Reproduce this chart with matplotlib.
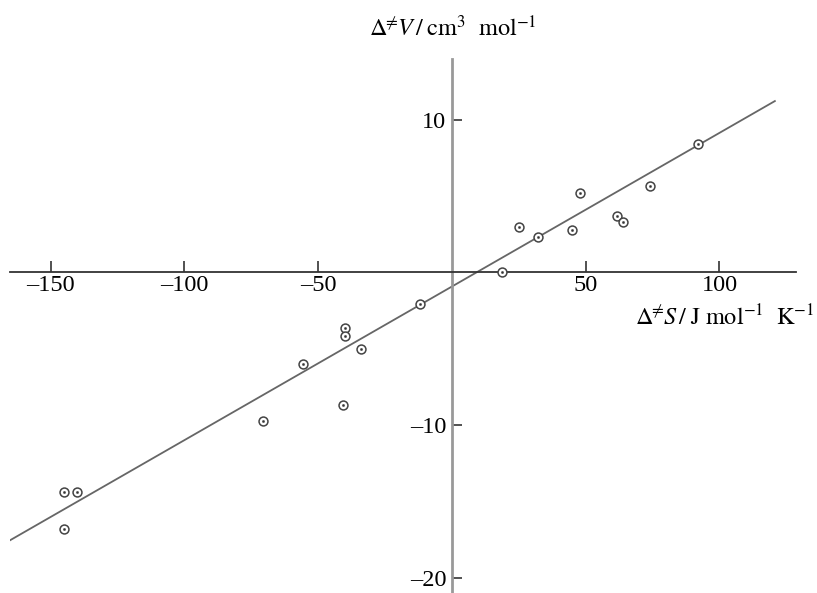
import matplotlib
matplotlib.use("Agg")
import matplotlib.pyplot as plt
import numpy as np

plt.rcParams['font.family'] = ['Liberation Serif', 'DejaVu Serif']
plt.rcParams['mathtext.fontset'] = 'stix'

# Data
dS = [-145.0, -140.2, -145.0, -12.0, -39.9, -39.9, -33.9, -55.8, -40.6, -70.5,
      18.7, 32.1, 24.9, 44.9, 47.9, 61.8, 63.8, 74.0, 92.1]
dV = [-14.4, -14.4, -16.8, -2.05, -3.62, -4.19, -5.02, -6.0, -8.69, -9.74,
      0.0, 2.31, 2.97, 2.79, 5.19, 3.69, 3.27, 5.63, 8.38]

fit_slope = 0.1006
fit_intercept = -0.93
fit_x_range = [-165.2, 120.7]

x_ticks = [-150, -100, -50, 50, 100]
y_ticks = [-20, -10, 10]


def fmt(v):
    return f"\u2013{abs(v)}" if v < 0 else str(v)


W, H = 817, 593
fig = plt.figure(figsize=(W / 100, H / 100), dpi=100)
ax = fig.add_axes([10 / W, 0.0, 786 / W, (H - 58.5) / H])
ax.set_xlim(-165.2, 128.6)
ax.set_ylim(-21.0, 14.0)

fx = np.array(fit_x_range)
ax.plot(fx, fit_slope * fx + fit_intercept, color='#666666', lw=1.3, zorder=2)

ax.plot(dS, dV, linestyle='none', marker='o', markersize=6.4,
        markerfacecolor='white', markeredgecolor='#444444', markeredgewidth=1.1, zorder=3)
ax.plot(dS, dV, linestyle='none', marker='o', markersize=1.6,
        markerfacecolor='#333333', markeredgecolor='#333333', markeredgewidth=0.3, zorder=4)

for s in ['top', 'right']:
    ax.spines[s].set_visible(False)
ax.spines['left'].set_position(('data', 0))
ax.spines['bottom'].set_position(('data', 0))
ax.spines['left'].set_color('#999999')
ax.spines['left'].set_linewidth(2.0)
ax.spines['bottom'].set_color('#333333')
ax.spines['bottom'].set_linewidth(1.3)

ax.set_xticks(x_ticks)
ax.set_xticklabels([fmt(v) for v in x_ticks])
ax.set_yticks(y_ticks)
ax.set_yticklabels([fmt(v) for v in y_ticks])
ax.tick_params(axis='x', direction='in', length=8, width=1.2, color='#333333',
               labelsize=17.5, pad=2)
ax.tick_params(axis='y', direction='in', length=7, width=1.2, color='#333333',
               labelsize=17.5, pad=4)
ax.set_facecolor('none')

fig.text(453 / W, 1 - 28 / H, r'$\Delta^{\!\!\neq}\!V\,/\;\mathrm{cm^{3}\ \ mol^{-1}}$',
         ha='center', va='center', fontsize=17.5)
fig.text(814 / W, 1 - 318 / H, r'$\Delta^{\!\!\neq}\!S\,/\;\mathrm{J\ mol^{-1}\ \ K^{-1}}$',
         ha='right', va='center', fontsize=17.5)

fig.savefig('out.png', dpi=100)
